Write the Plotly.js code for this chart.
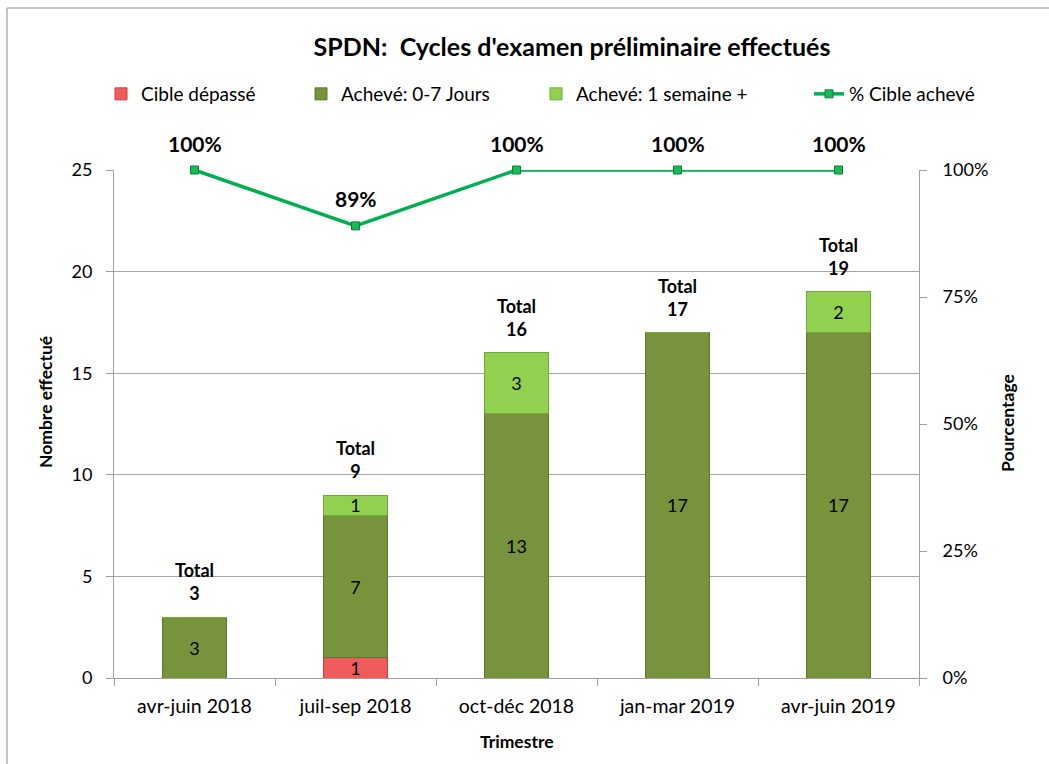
<!DOCTYPE html>
<html>
<head>
<meta charset="utf-8">
<script src="https://cdn.plot.ly/plotly-3.0.1.min.js"></script>
<style>html,body{margin:0;padding:0;background:#fff;}#chart{width:1049px;height:764px;}</style>
</head>
<body>
<div id="chart"></div>
<script>
var categories = ['avr-juin 2018', 'juil-sep 2018', 'oct-déc 2018', 'jan-mar 2019', 'avr-juin 2019'];
var cibleDepasse = [0, 1, 0, 0, 0];
var acheve07 = [3, 7, 13, 17, 17];
var acheve1sem = [0, 1, 3, 0, 2];
var pctAcheve = [100, 89, 100, 100, 100];
var seriesNames = ['Cible dépassé', 'Achevé: 0-7 Jours', 'Achevé: 1 semaine +', '% Cible achevé'];

var totals = categories.map(function (c, i) { return cibleDepasse[i] + acheve07[i] + acheve1sem[i]; });
function labels(arr) { return arr.map(function (v) { return v > 0 ? String(v) : ''; }); }

var FONT = 'Lato, "Open Sans", sans-serif';
var W = 1049, H = 764, L = 114, R = 130, T = 170, B = 86;
var pw = W - L - R, ph = H - T - B;
function px2x(px) { return (px - L) / pw; }
function py2y(py) { return (H - B - py) / ph; }

function barTrace(vals, name, color, lineColor, legendId) {
  return {
    type: 'bar', x: categories, y: vals, name: name,
    text: labels(vals), textposition: 'inside', insidetextanchor: 'middle',
    textangle: 0, constraintext: 'none',
    textfont: {family: FONT, size: 18, color: '#000'},
    marker: {color: color, line: {color: lineColor, width: 1}},
    width: 0.4, legend: legendId, hoverinfo: 'x+y+name', cliponaxis: false
  };
}

var traces = [
  barTrace(cibleDepasse, seriesNames[0], '#F05B5B', '#C94040', 'legend'),
  barTrace(acheve07, seriesNames[1], '#77933C', '#5E7530', 'legend2'),
  barTrace(acheve1sem, seriesNames[2], '#92D050', '#74A83E', 'legend3'),
  {
    type: 'scatter', mode: 'lines+markers', x: categories, y: pctAcheve, yaxis: 'y2',
    name: seriesNames[3], legend: 'legend4',
    line: {color: '#00B050', width: 3.5},
    marker: {symbol: 'square', size: 8, color: '#1DB954', line: {color: '#0A7F3A', width: 1}},
    cliponaxis: false
  }
];

var annotations = [];
categories.forEach(function (c, i) {
  annotations.push({
    x: c, y: totals[i], xref: 'x', yref: 'y', text: '<b>Total<br>' + totals[i] + '</b>',
    showarrow: false, yanchor: 'bottom', yshift: 11,
    font: {family: FONT, size: 18, color: '#000'}
  });
  annotations.push({
    x: c, y: pctAcheve[i], xref: 'x', yref: 'y2', text: '<b>' + pctAcheve[i] + '%</b>',
    showarrow: false, yanchor: 'middle', yshift: 27,
    font: {family: FONT, size: 21, color: '#000'}
  });
});
annotations.push({
  xref: 'paper', yref: 'paper', x: px2x(45), y: py2y(402), text: '<b>Nombre effectué</b>',
  textangle: -90, showarrow: false, xanchor: 'center', yanchor: 'middle',
  font: {family: FONT, size: 17.5, color: '#000'}
});
annotations.push({
  xref: 'paper', yref: 'paper', x: px2x(1007), y: py2y(423), text: '<b>Pourcentage</b>',
  textangle: -90, showarrow: false, xanchor: 'center', yanchor: 'middle',
  font: {family: FONT, size: 17.5, color: '#000'}
});
annotations.push({
  xref: 'paper', yref: 'paper', x: px2x(517), y: py2y(741), text: '<b>Trimestre</b>',
  showarrow: false, xanchor: 'center', yanchor: 'middle',
  font: {family: FONT, size: 17.5, color: '#000'}
});

function legendAt(pxText) {
  return {
    orientation: 'h', x: px2x(pxText - 40), y: py2y(94), xanchor: 'left', yanchor: 'middle',
    xref: 'paper', yref: 'paper', bgcolor: 'rgba(0,0,0,0)',
    font: {family: FONT, size: 19, color: '#000'}, itemwidth: 30
  };
}

var axisColor = '#A0A0A0';
var layout = {
  width: W, height: H,
  margin: {l: L, r: R, t: T, b: B, pad: 0},
  paper_bgcolor: '#fff', plot_bgcolor: '#fff',
  font: {family: FONT, size: 17, color: '#000'},
  barmode: 'stack',
  title: {
    text: "<b>SPDN:  Cycles d'examen préliminaire effectués</b>",
    x: 572 / W, y: 1 - 47 / H, xanchor: 'center', yanchor: 'middle', xref: 'container', yref: 'container',
    font: {family: FONT, size: 25, color: '#000'}
  },
  xaxis: {
    type: 'category', showline: true, linecolor: axisColor, linewidth: 1,
    ticks: 'outside', tickson: 'boundaries', ticklen: 7, tickcolor: axisColor,
    showgrid: false, tickfont: {family: FONT, size: 19.5, color: '#000'},
    ticklabelstandoff: 11, fixedrange: true
  },
  yaxis: {
    range: [0, 25], dtick: 5, tick0: 0, showline: true, linecolor: axisColor, linewidth: 1,
    ticks: 'outside', ticklen: 7, tickcolor: axisColor,
    showgrid: true, gridcolor: '#A6A6A6', gridwidth: 1, zeroline: false,
    tickfont: {family: FONT, size: 18, color: '#000'}, ticklabelstandoff: 10, fixedrange: true
  },
  yaxis2: {
    overlaying: 'y', side: 'right', range: [0, 100], dtick: 25, tick0: 0, ticksuffix: '%',
    showline: true, linecolor: axisColor, linewidth: 1,
    ticks: 'outside', ticklen: 7, tickcolor: axisColor, showgrid: false, zeroline: false,
    tickfont: {family: FONT, size: 18, color: '#000'}, ticklabelstandoff: 12, fixedrange: true
  },
  legend: legendAt(141),
  legend2: legendAt(341),
  legend3: legendAt(576),
  legend4: legendAt(849),
  annotations: annotations,
  shapes: [
    {type: 'line', xref: 'paper', yref: 'paper', x0: px2x(7), x1: px2x(1049), y0: py2y(8), y1: py2y(8),
     line: {color: '#8C8C8C', width: 1}},
    {type: 'line', xref: 'paper', yref: 'paper', x0: px2x(7), x1: px2x(7), y0: py2y(8), y1: py2y(764),
     line: {color: '#8C8C8C', width: 1}}
  ],
  showlegend: true
};

Plotly.newPlot('chart', traces, layout, {displayModeBar: false, staticPlot: false});
</script>
</body>
</html>
